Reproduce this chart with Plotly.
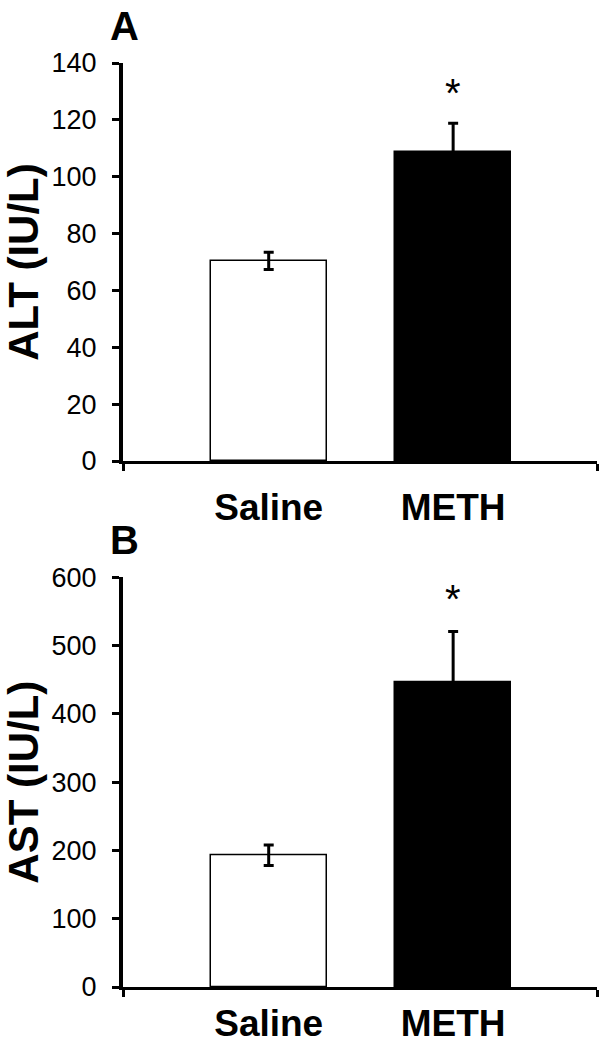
import plotly.graph_objects as go

groups = ["Saline", "METH"]
alt_mean = [70.4, 108.8]
alt_err = [3.0, 10.0]
ast_mean = [193.0, 446.6]
ast_err = [15.0, 74.0]
bar_colors = ["white", "black"]
y_ticks_alt = [0, 20, 40, 60, 80, 100, 120, 140]
y_ticks_ast = [0, 100, 200, 300, 400, 500, 600]

xpos = list(range(len(groups)))
XR = [-0.79, 1.78]

W, H = 601, 1050
FONT = "Liberation Sans, Arial, sans-serif"

fig = go.Figure()

def add_panel(means, errs, xa, ya):
    fig.add_trace(go.Bar(
        x=xpos, y=means, width=0.63,
        marker=dict(color=bar_colors, line=dict(color="black", width=1.5)),
        error_y=dict(type="data", array=errs, visible=True, color="black",
                     thickness=3, width=5),
        xaxis=xa, yaxis=ya, showlegend=False, hoverinfo="skip",
    ))

add_panel(alt_mean, alt_err, "x", "y")
add_panel(ast_mean, ast_err, "x2", "y2")

xdom = [123 / W, 597 / W]
ydomA = [1 - 461 / H, 1 - 63 / H]
ydomB = [1 - 987 / H, 1 - 577.3 / H]

def xaxis_props(standoff):
    return dict(
        range=XR, tickmode="array", tickvals=xpos, ticktext=groups,
        ticks="", showline=True, linecolor="black", linewidth=3,
        showgrid=False, zeroline=False, fixedrange=True,
        tickfont=dict(family=FONT, size=37, color="black", weight="bold"),
        ticklabelstandoff=standoff,
        minor=dict(tickmode="array", tickvals=XR, ticks="outside", ticklen=7,
                   tickwidth=3, tickcolor="black", showgrid=False),
    )

yaxis_common = dict(
    ticks="outside", ticklen=7, tickwidth=3, tickcolor="black",
    showline=True, linecolor="black", linewidth=4,
    showgrid=False, zeroline=False, fixedrange=True,
    tickfont=dict(family=FONT, size=27, color="black"),
    ticklabelstandoff=10,
    title_font=dict(family=FONT, size=42, color="black", weight="bold"),
    title_standoff=9,
)

fig.update_layout(
    width=W, height=H,
    margin=dict(l=0, r=0, t=0, b=0, autoexpand=False),
    paper_bgcolor="white", plot_bgcolor="white",
    bargap=0,
    xaxis=dict(domain=xdom, anchor="y", **xaxis_props(12)),
    xaxis2=dict(domain=xdom, anchor="y2", **xaxis_props(2)),
    yaxis=dict(domain=ydomA, anchor="x", range=[0, 140],
               tickvals=y_ticks_alt, title_text="ALT (IU/L)", **yaxis_common),
    yaxis2=dict(domain=ydomB, anchor="x2", range=[0, 600],
                tickvals=y_ticks_ast, title_text="AST (IU/L)", **yaxis_common),
)

# significance markers above METH error bars
for xa, ya, m, e, ys in [("x", "y", alt_mean[1], alt_err[1], 6),
                         ("x2", "y2", ast_mean[1], ast_err[1], 9)]:
    fig.add_annotation(x=xpos[1], y=m + e, xref=xa, yref=ya, text="*",
                       showarrow=False, yanchor="bottom", yshift=ys,
                       font=dict(family=FONT, size=40, color="black"))

# panel letters
for letter, yc in [("A", 26), ("B", 540)]:
    fig.add_annotation(x=124 / W, y=1 - yc / H, xref="paper", yref="paper", text=letter,
                       showarrow=False, xanchor="center", yanchor="middle",
                       font=dict(family=FONT, size=40, color="black", weight="bold"))

fig.write_html("out.html", config={"displayModeBar": False},
               post_script="document.body.style.margin='0px';")
